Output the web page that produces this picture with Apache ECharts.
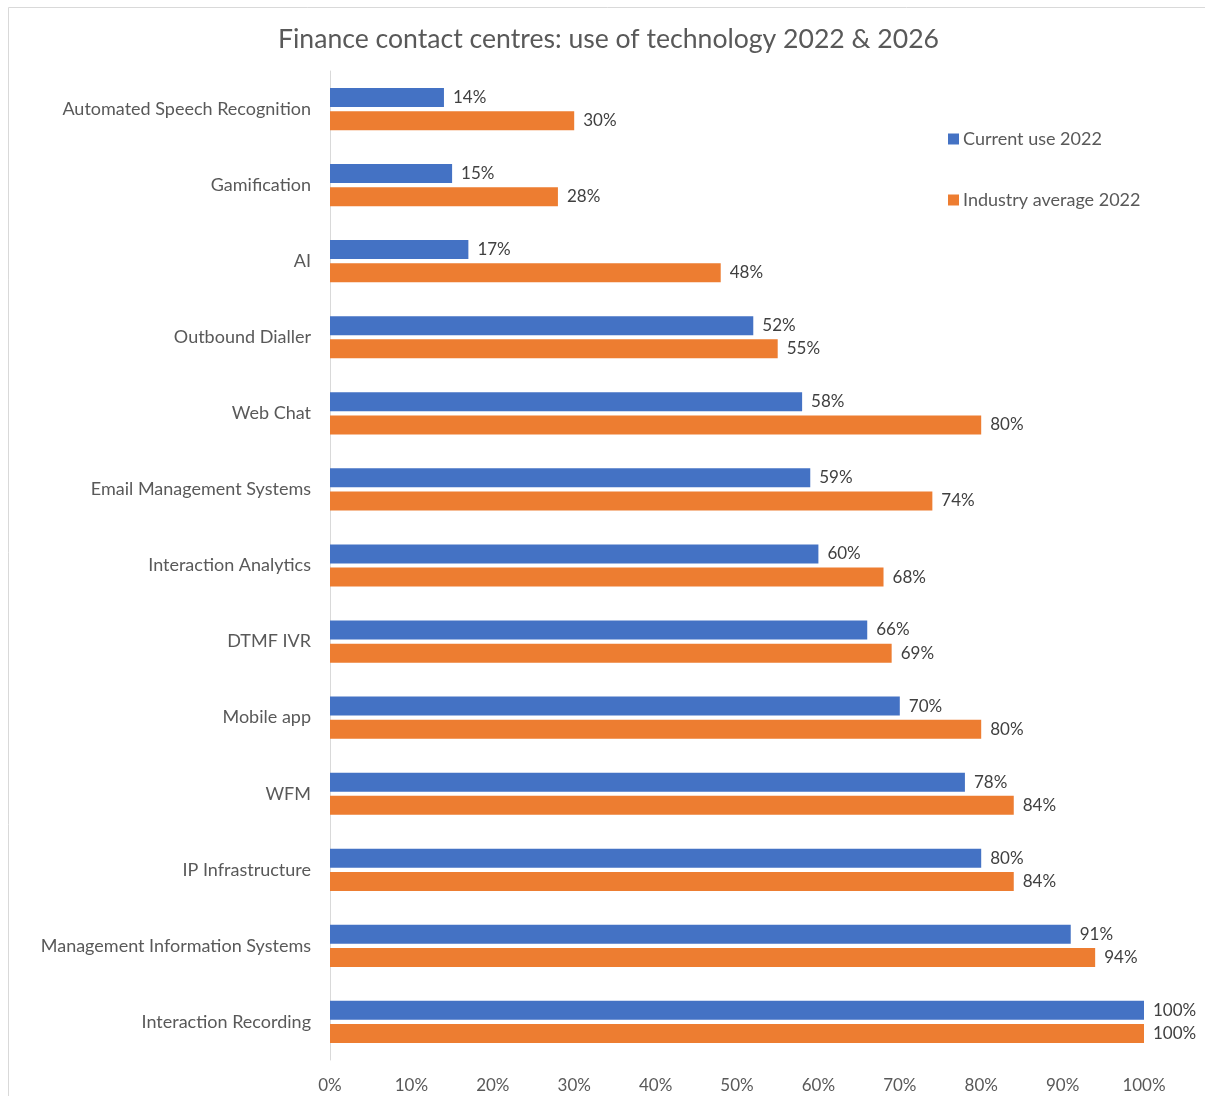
<!DOCTYPE html>
<html><head><meta charset="utf-8">
<script src="https://cdn.jsdelivr.net/npm/echarts@6/dist/echarts.min.js"></script>
<style>html,body{margin:0;padding:0;background:#fff}#c{width:1205px;height:1096px}</style>
</head><body><div id="c"></div>
<script>
var categories = ["Automated Speech Recognition","Gamification","AI","Outbound Dialler","Web Chat","Email Management Systems","Interaction Analytics","DTMF IVR","Mobile app","WFM","IP Infrastructure","Management Information Systems","Interaction Recording"];
var currentUse2022 = [14,15,17,52,58,59,60,66,70,78,80,91,100];
var industryAverage2022 = [30,28,48,55,80,74,68,69,80,84,84,94,100];
var seriesNames = ["Current use 2022","Industry average 2022"];
var FONT = "Lato";
var chart = echarts.init(document.getElementById('c'), null, {renderer:'canvas'});
var lbl = {show:true, position:'right', distance:9, formatter:'{c}%', color:'#404040', fontSize:17, fontFamily:FONT};
chart.setOption({
  animation:false,
  textStyle:{fontFamily:FONT},
  graphic:[{type:'rect', shape:{x:8.5,y:7.5,width:1300,height:1200}, style:{fill:'none',stroke:'#d9d9d9',lineWidth:1}, silent:true}],
  title:{text:'Finance contact centres: use of technology 2022 & 2026', left:273, top:21, textStyle:{fontSize:26.6, fontWeight:'normal', color:'#595959', fontFamily:FONT}},
  legend:{orient:'vertical', left:943, top:125, itemGap:43, itemWidth:11, itemHeight:11, icon:'rect', textStyle:{fontSize:18,color:'#595959',fontFamily:FONT, padding:[0,0,0,-1]}, data:seriesNames},
  grid:{left:330, top:71, width:814, height:989, containLabel:false},
  xAxis:{type:'value', min:0, max:100, interval:10, axisLine:{show:false}, axisTick:{show:false}, splitLine:{show:false},
    axisLabel:{formatter:'{value}%', color:'#595959', fontSize:17, fontFamily:FONT, margin:17}},
  yAxis:{type:'category', data:categories, inverse:true, axisTick:{show:false}, axisLine:{show:true, lineStyle:{color:'#d9d9d9'}},
    axisLabel:{color:'#595959', fontSize:18, fontFamily:FONT, margin:19}},
  series:[
    {name:seriesNames[0], type:'bar', data:currentUse2022, barWidth:19, barGap:'22%', itemStyle:{color:'#4472c4'}, label:lbl},
    {name:seriesNames[1], type:'bar', data:industryAverage2022, barWidth:19, barGap:'22%', itemStyle:{color:'#ed7d31'}, label:lbl}
  ]
});
</script></body></html>
